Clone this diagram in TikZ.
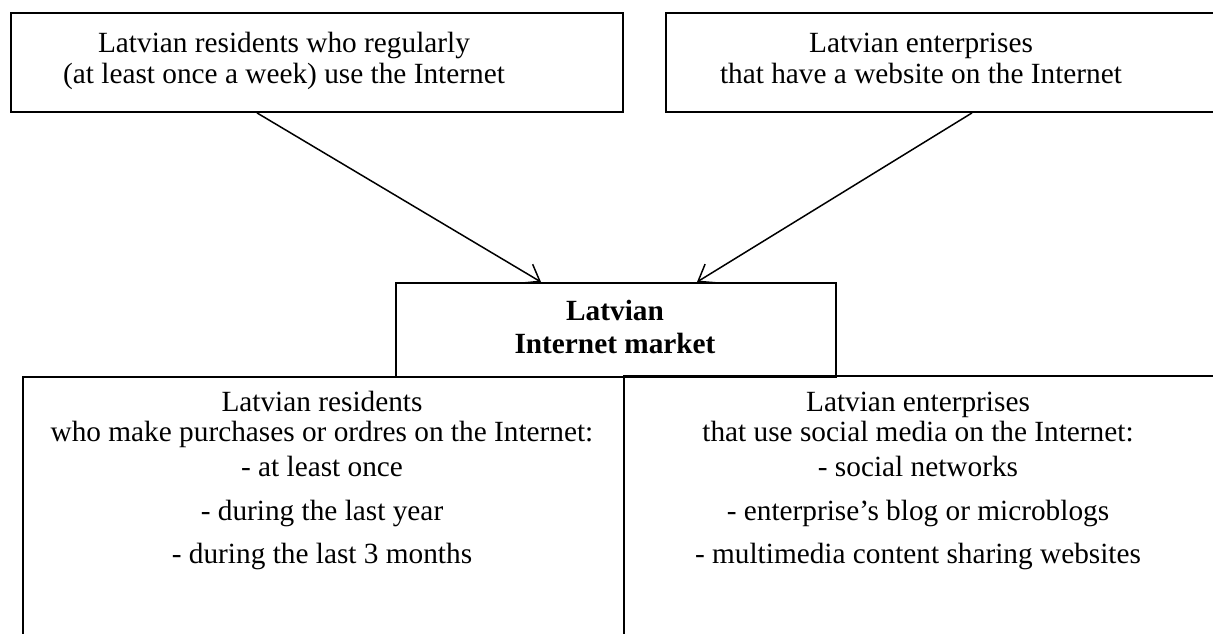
\documentclass[tikz,border=0pt]{standalone}
\usepackage{fontspec}
\setmainfont{Liberation Serif}
\usetikzlibrary{arrows.meta,calc}
\begin{document}
\begin{tikzpicture}[x=1pt,y=-1pt,
  box/.style={draw, line width=1.9pt, inner sep=0pt, anchor=north west},
  txt/.style={font=\fontsize{29.3}{31}\selectfont, align=center, inner sep=0pt, anchor=base},
  bold/.style={txt, font=\fontsize{29.3}{33}\selectfont\bfseries},
  arr/.style={line width=1.5pt, -{Straight Barb[length=15pt,width=22pt,line width=1.5pt]}}]
\useasboundingbox (0,0) rectangle (1213,633);
% boxes
\node[box, minimum width=612pt, minimum height=99pt] (tl) at (10,12) {};
\node[box, minimum width=560pt, minimum height=99pt] (tr) at (665,12) {};
\node[box, minimum width=601pt, minimum height=320pt] (bl) at (22,376) {};
\node[box, minimum width=600pt, minimum height=320pt] (br) at (623,375) {};
\node[box, minimum width=440pt, minimum height=94pt] (mk) at (395,282) {};
% texts
\node[txt] (tlt1) at (284,52) {Latvian residents who regularly};
\node[txt] (tlt2) at (284,83) {(at least once a week) use the Internet};
\node[txt] (trt1) at (921,52) {Latvian enterprises};
\node[txt] (trt2) at (921,83) {that have a website on the Internet};
\node[bold] (mkt1) at (615,320) {Latvian};
\node[bold] (mkt2) at (615,353) {Internet market};
\node[txt] (blt1) at (322,411) {Latvian residents};
\node[txt] (blt2) at (322,441) {who make purchases or ordres on the Internet:};
\node[txt] (blt3) at (322,476) {- at least once};
\node[txt] (blt4) at (322,520) {- during the last year};
\node[txt] (blt5) at (322,563) {- during the last 3 months};
\node[txt] (brt1) at (918,411) {Latvian enterprises};
\node[txt] (brt2) at (918,441) {that use social media on the Internet:};
\node[txt] (brt3) at (918,476) {- social networks};
\node[txt] (brt4) at (918,520) {- enterprise’s blog or microblogs};
\node[txt] (brt5) at (918,563) {- multimedia content sharing websites};
% arrows
\draw[arr] ($(tl.south west)+(247,0)$) -- ($(mk.north west)+(146,0)$);
\draw[arr] ($(tr.south west)+(307,0)$) -- ($(mk.north west)+(302,0)$);
\end{tikzpicture}
\end{document}
